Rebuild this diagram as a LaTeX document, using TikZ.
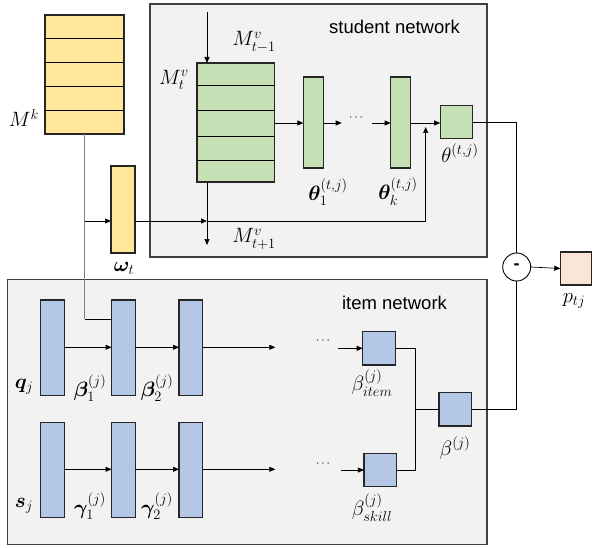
\documentclass[tikz,border=0pt]{standalone}
\usepackage{amsmath}
\usepackage{bm}
\usepackage{fontspec}
\newfontfamily\arialf{Liberation Sans}
\usetikzlibrary{calc,arrows.meta}
\definecolor{cyel}{HTML}{FFE699}
\definecolor{cgrn}{HTML}{C5E0B4}
\definecolor{cblu}{HTML}{B4C7E7}
\definecolor{cpch}{HTML}{FBE5D6}
\definecolor{cbg}{HTML}{F2F2F2}
\definecolor{cbrd}{HTML}{404040}
\tikzset{
  box/.style={draw=black!85,line width=1.1pt,inner sep=0pt,outer sep=0pt},
  ybox/.style={box,fill=cyel},
  gbox/.style={box,fill=cgrn},
  bbox/.style={box,fill=cblu},
  pbox/.style={box,fill=cpch},
  net/.style={draw=cbrd,line width=1.1pt,fill=cbg,inner sep=0pt,outer sep=0pt},
  conn/.style={line width=0.7pt,black},
  arr/.style={conn,-{Triangle[length=6pt,width=5pt]}},
  gconn/.style={line width=1.2pt,black!50},
  lbl/.style={inner sep=0pt,font=\fontsize{20.74}{24}\selectfont},
  dots/.style={inner sep=0pt,font=\fontsize{12}{14}\selectfont},
  txt/.style={inner sep=0pt,font=\arialf\fontsize{18.5}{22}\selectfont},
}
\begin{document}
\begin{tikzpicture}[x=1pt,y=-1pt]
\useasboundingbox (0,0) rectangle (594,548);
% network frames
\node[net,minimum width=337pt,minimum height=253pt] (student) at (318.5,130.5) {};
\node[net,minimum width=479.5pt,minimum height=265pt] (item) at (247.2,411.6) {};
\node[txt] (stxt) at (394.5,27) {student network};
\node[txt] (itxt) at (394.5,303) {item network};

% memory Mk
\node[ybox,minimum width=79pt,minimum height=119pt] (Mk) at (84.5,74.5) {};
\foreach \f in {0.2,0.4,0.6,0.8}
  \draw[line width=0.9pt] ($(Mk.north west)!\f!(Mk.south west)$) -- ($(Mk.north east)!\f!(Mk.south east)$);
\node[lbl] (Mklbl) at (24,118) {$M^k$};

% omega
\node[ybox,minimum width=24pt,minimum height=87pt] (om) at (123,209.5) {};
\node[lbl] (omlbl) at (124,268) {$\bm{\omega}_t$};

% value memory
\node[gbox,minimum width=77.7pt,minimum height=119pt] (Mv) at (235.8,122.5) {};
\foreach \f in {0.19,0.4,0.62,0.82}
  \draw[line width=0.9pt] ($(Mv.north west)!\f!(Mv.south west)$) -- ($(Mv.north east)!\f!(Mv.south east)$);
\node[lbl] (Mvt) at (174,80) {$M_t^v$};
\node[lbl] (Mvm) at (254,42) {$M_{t-1}^v$};
\node[lbl] (Mvp) at (254,239) {$M_{t+1}^v$};
\coordinate (Mvin) at (207,12);
\coordinate (Mvout) at (207,245);
\draw[arr] (Mvin) -- (Mvin |- Mv.north);
\draw[arr] (Mvin |- Mv.south) -- (Mvout);

% theta layers
\node[gbox,minimum width=19.7pt,minimum height=91pt] (th1) at (313.2,122.5) {};
\node[gbox,minimum width=19.7pt,minimum height=91pt] (thk) at (400.5,122.5) {};
\node[gbox,minimum width=32pt,minimum height=33pt] (th) at (456.2,122) {};
\node[lbl] (th1lbl) at (328,192) {$\bm{\theta}_1^{(t,j)}$};
\node[lbl] (thklbl) at (398,192) {$\bm{\theta}_k^{(t,j)}$};
\node[lbl] (thlbl) at (460,153) {$\theta^{(t,j)}$};
\node[dots] (thdots) at (357,118) {$\cdots$};
\coordinate (th1o) at (341.7,123);
\coordinate (thki) at (371.7,123);
\draw[arr] (Mv.east |- th1o) -- (th1.west |- th1o);
\draw[arr] (th1.east |- th1o) -- (th1o);
\draw[arr] (thki) -- (thk.west |- thki);
\draw[arr] (thk.east |- thki) -- (th.west |- thki);

% connections from Mk / omega
\coordinate (jn) at (84.5,221);
\coordinate (up) at (425.7,221);
\coordinate (b1in) at (84.5,319);
\draw[gconn] (Mk.south) -- (b1in);
\draw[conn] (b1in) -- (b1in -| 111.7,0);
\draw[arr] (jn) -- (om.west |- jn);
\draw[arr] (om.east |- jn) -- (Mvin |- jn);
\draw[conn] (Mvin |- jn) -- (up);
\draw[arr] (up) -- (425.7,127);

% difference and output
\node[draw,circle,line width=0.9pt,fill=white,minimum size=28pt,inner sep=0pt,font=\arialf\bfseries\fontsize{18}{20}\selectfont] (diff) at (516.7,267) {-};
\node[pbox,minimum width=31pt,minimum height=33pt] (p) at (575.8,268.5) {};
\node[lbl] (plbl) at (574,301) {$p_{tj}$};
\draw[conn] (th.east) -- (th.east -| diff) -- (diff.north);
\draw[arr] (diff.east) -- (p.west);

% item network
\node[bbox,minimum width=23.6pt,minimum height=95.7pt] (q) at (52.5,347.8) {};
\node[bbox,minimum width=23.6pt,minimum height=95.7pt] (b1) at (123.3,347.8) {};
\node[bbox,minimum width=23.6pt,minimum height=95.7pt] (b2) at (190.8,347.8) {};
\node[bbox,minimum width=23.6pt,minimum height=95pt] (s) at (52.5,469.8) {};
\node[bbox,minimum width=23.6pt,minimum height=95pt] (g1) at (123.3,469.8) {};
\node[bbox,minimum width=23.6pt,minimum height=95pt] (g2) at (190.8,469.8) {};
\node[lbl] (qlbl) at (24,387) {$\bm{q}_j$};
\node[lbl] (b1lbl) at (90,388) {$\bm{\beta}_1^{(j)}$};
\node[lbl] (b2lbl) at (157,388) {$\bm{\beta}_2^{(j)}$};
\node[lbl] (slbl) at (24,506) {$\bm{s}_j$};
\node[lbl] (g1lbl) at (90,506) {$\bm{\gamma}_1^{(j)}$};
\node[lbl] (g2lbl) at (157,506) {$\bm{\gamma}_2^{(j)}$};
\coordinate (qo) at (275.3,347.3);
\coordinate (so) at (275.3,469.3);
\draw[arr] (q.east |- qo) -- (b1.west |- qo);
\draw[arr] (b1.east |- qo) -- (b2.west |- qo);
\draw[arr] (b2.east |- qo) -- (qo);
\draw[arr] (s.east |- so) -- (g1.west |- so);
\draw[arr] (g1.east |- so) -- (g2.west |- so);
\draw[arr] (g2.east |- so) -- (so);

\node[bbox,minimum width=32.7pt,minimum height=33.3pt] (bit) at (379,348.3) {};
\node[bbox,minimum width=32.7pt,minimum height=33.3pt] (bsk) at (380.3,470) {};
\node[bbox,minimum width=32.7pt,minimum height=33.3pt] (bj) at (455.3,409.3) {};
\node[lbl] (bitlbl) at (372,383) {$\beta_{item}^{(j)}$};
\node[lbl] (bsklbl) at (372,508) {$\beta_{skill}^{(j)}$};
\node[lbl] (bjlbl) at (455,448) {$\beta^{(j)}$};
\node[dots] (d1) at (324,341) {$\cdots$};
\node[dots] (d2) at (324,464) {$\cdots$};
\coordinate (biti) at (338,348.3);
\coordinate (bski) at (340.7,470);
\coordinate (bx) at (415.7,409.3);
\draw[arr] (biti) -- (bit.west);
\draw[arr] (bski) -- (bsk.west);
\draw[conn] (bit.east) -- (bit.east -| bx) -- (bsk.east -| bx) -- (bsk.east);
\draw[conn] (bx) -- (bj.west);
\draw[conn] (bj.east) -- (bj.east -| diff) -- (diff.south);
\end{tikzpicture}
\end{document}
